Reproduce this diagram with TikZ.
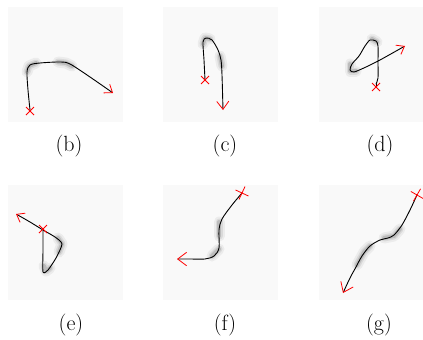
\documentclass[tikz,border=0pt]{standalone}
\usepackage{tikz}
\usetikzlibrary{arrows.meta}

\definecolor{panelbg}{gray}{0.975}
\newcommand\smudge[1]{\foreach \w/\o in {11/.05,7/.08,4/.13}{\draw[line width=\w pt, opacity=\o, line cap=round, line join=round] #1;}}

\begin{document}
\begin{tikzpicture}[x=1pt, y=-1pt,
    stroke/.style={line width=0.9pt, line cap=round, line join=round},
    tipend/.style={-{Straight Barb[color=red, length=#1, width=1.5*#1, line width=0.8pt]}},
    tipend/.default=7pt,
    pics/startmark/.style={code={\draw[red, line width=0.8pt] (-#1,-#1) -- (#1,#1) (-#1,#1) -- (#1,-#1);}},
    pics/startmark/.default=4,
    lbl/.style={font=\fontsize{22}{26}\selectfont, inner sep=0pt}]
    \useasboundingbox (0,0) rectangle (423,340);

    % panels
    \fill[panelbg] (8,7) rectangle (123,122);
    \fill[panelbg] (163,7) rectangle (278,122);
    \fill[panelbg] (319,7) rectangle (423,122);
    \fill[panelbg] (8,185) rectangle (123,300);
    \fill[panelbg] (163,185) rectangle (278,300);
    \fill[panelbg] (319,185) rectangle (423,300);

    % (b)
    \smudge{(27,72) -- (29,66) -- (36,63)}
    \smudge{(58,62) -- (66,63) -- (72,66)}
    \draw[stroke, tipend] plot[smooth, tension=.5] coordinates {(30,110) (28,90) (27,72) (30,65) (40,63) (60,62) (70,64) (90,77) (113,93)};
    \pic at (30,111) {startmark};
    \node[lbl] (lblb) at (69,146) {(b)};

    % (c)
    \smudge{(203,44) -- (205,38) -- (210,39)}
    \smudge{(220,56) -- (222,66)}
    \draw[stroke, tipend=8pt] plot[smooth, tension=.5] coordinates {(205,80) (204,60) (203,42) (206,38) (212,40) (218,50) (221,60) (222,75) (223,110)};
    \pic at (205,80) {startmark};
    \node[lbl] (lblc) at (225,146) {(c)};

    % (d)
    \smudge{(372,39) -- (377,42)}
    \smudge{(350,64) -- (350,71) -- (356,71)}
    \draw[stroke, tipend] plot[smooth, tension=.45] coordinates {(376,84) (378,78) (378,62) (378,46) (376,41) (370,40) (365,46) (359,56) (352,64) (350,70) (354,72) (366,67) (380,60) (405,46)};
    \draw[stroke] (376,84) -- (376,87);
    \pic at (376,87) {startmark};
    \node[lbl] (lbld) at (380,146) {(d)};

    % (e)
    \smudge{(58,238) -- (62,244) -- (59,252)}
    \smudge{(44,266) -- (46,271) -- (50,268)}
    \draw[stroke, tipend] plot[smooth, tension=.4] coordinates {(43,230) (43,250) (43,272) (48,270) (56,258) (62,244) (55,237) (43,230) (30,222) (16,214)};
    \pic at (43,229) {startmark};
    \node[lbl] (lble) at (71,325) {(e)};

    % (f)
    \smudge{(219,222) -- (219,236)}
    \smudge{(212,256) -- (219,249)}
    \draw[stroke, tipend=9pt] plot[smooth, tension=.5] coordinates {(242,193) (232,205) (222,219) (219,230) (219,248) (214,256) (205,259) (190,259) (177,259)};
    \pic[rotate=20] at (242,193) {startmark=5};
    \node[lbl] (lblf) at (225,325) {(f)};

    % (g)
    \smudge{(384,238) -- (394,236) -- (400,229)}
    \smudge{(357,265) -- (364,252) -- (370,246)}
    \draw[stroke, tipend=9pt] plot[smooth, tension=.5] coordinates {(417,195) (410,210) (402,225) (394,235) (388,238) (380,240) (370,246) (362,256) (356,267) (350,278) (343,293)};
    \pic[rotate=15] at (417,195) {startmark=5};
    \node[lbl] (lblg) at (379,325) {(g)};
\end{tikzpicture}
\end{document}
